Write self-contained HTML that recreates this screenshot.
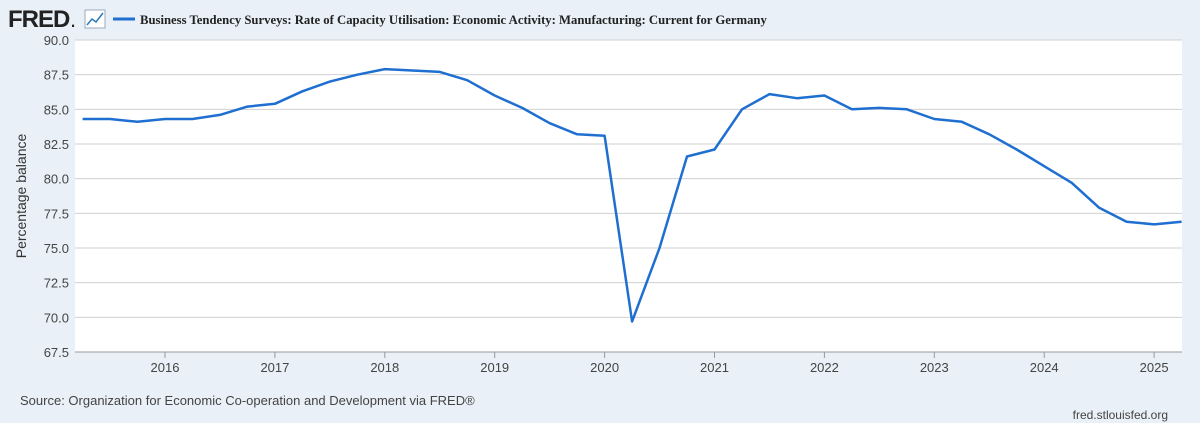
<!DOCTYPE html>
<html><head><meta charset="utf-8"><style>
body{margin:0;width:1200px;height:423px;background:#e9f0f7;font-family:"Liberation Sans",sans-serif;overflow:hidden}
svg{display:block}
</style></head><body>
<svg width="1200" height="423">
<rect x="0" y="0" width="1200" height="423" fill="#e9f0f7"/>
<text x="8" y="27" font-size="24" font-weight="bold" fill="#222" font-family="Liberation Sans" letter-spacing="-1">FRED</text>
<text x="70" y="27" font-size="22" fill="#222">.</text>
<rect x="85" y="10" width="20" height="18" fill="#fff" stroke="#9ab" stroke-width="1"/>
<polyline points="87,25 92,19 96,22 103,13" fill="none" stroke="#2a7ab8" stroke-width="1.5"/>
<line x1="113" y1="19" x2="135" y2="19" stroke="#1f6fd1" stroke-width="3"/>
<text x="140" y="24" font-size="12.7" font-weight="bold" font-family="Liberation Serif" fill="#222">Business Tendency Surveys: Rate of Capacity Utilisation: Economic Activity: Manufacturing: Current for Germany</text>
<rect x="75" y="40" width="1107" height="312" fill="#fff"/>
<g id="grid"></g><g id="yt"></g><g id="xt"></g>
<text transform="translate(26,196) rotate(-90)" text-anchor="middle" font-size="14" fill="#333">Percentage balance</text>
<polyline id="line" fill="none" stroke="#1f6fd1" stroke-width="2.5" stroke-linejoin="round"/>
<text x="20" y="405" font-size="13" fill="#444">Source: Organization for Economic Co-operation and Development via FRED®</text>
<text x="1168" y="419" font-size="12" fill="#444" text-anchor="end">fred.stlouisfed.org</text>
</svg>
<script>
const startYear = 2015.25;
const values = [84.3,84.3,84.1,84.3,84.3,84.6,85.2,85.4,86.3,87.0,87.5,87.9,87.8,87.7,87.1,86.0,85.1,84.0,83.2,83.1,69.7,75.0,81.6,82.1,85.0,86.1,85.8,86.0,85.0,85.1,85.0,84.3,84.1,83.2,82.1,80.9,79.7,77.9,76.9,76.7,76.9];
const yTicks = [67.5,70,72.5,75,77.5,80,82.5,85,87.5,90];
const xTicks = [2016,2017,2018,2019,2020,2021,2022,2023,2024,2025];
const NS='http://www.w3.org/2000/svg';
const x = t => 165 + (t-2016)*109.9;
const y = v => 352 - (v-67.5)/22.5*312;
const grid=document.getElementById('grid'), yt=document.getElementById('yt'), xt=document.getElementById('xt');
yTicks.forEach(v=>{
  const l=document.createElementNS(NS,'line');
  l.setAttribute('x1',75);l.setAttribute('x2',1182);l.setAttribute('y1',y(v));l.setAttribute('y2',y(v));
  l.setAttribute('stroke','#d0d0d0');l.setAttribute('stroke-width','1');
  
  
  grid.appendChild(l);
  const t=document.createElementNS(NS,'text');
  t.setAttribute('x',69);t.setAttribute('y',y(v)+5);t.setAttribute('text-anchor','end');
  t.setAttribute('font-size','13');t.setAttribute('fill','#444');t.textContent=v.toFixed(1);
  
  
  yt.appendChild(t);
});
xTicks.forEach(v=>{
  const l=document.createElementNS(NS,'line');
  l.setAttribute('x1',x(v));l.setAttribute('x2',x(v));l.setAttribute('y1',352);l.setAttribute('y2',358);
  l.setAttribute('stroke','#999');
  
  
  xt.appendChild(l);
  const t=document.createElementNS(NS,'text');
  t.setAttribute('x',x(v));t.setAttribute('y',372);t.setAttribute('text-anchor','middle');
  t.setAttribute('font-size','13');t.setAttribute('fill','#444');t.textContent=v;
  
  
  xt.appendChild(t);
});
const ax=document.createElementNS(NS,'line');
ax.setAttribute('x1',75);ax.setAttribute('x2',1182);ax.setAttribute('y1',352);ax.setAttribute('y2',352);ax.setAttribute('stroke','#999');


xt.appendChild(ax);
document.getElementById('line').setAttribute('points',values.map((v,i)=>x(startYear+i*0.25).toFixed(1)+','+y(v).toFixed(1)).join(' '));
</script>
</body></html>
